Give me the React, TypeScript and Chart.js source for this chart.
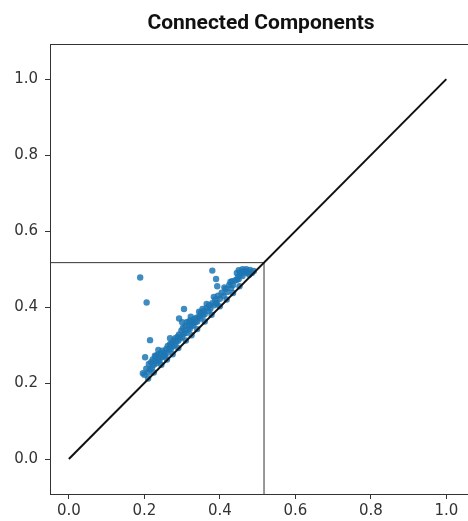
import React, { useEffect, useRef } from "react";
import { Chart, registerables } from "chart.js";

Chart.register(...registerables);

const TITLE = "Connected Components";

const xTickValues = [0, 0.2, 0.4, 0.6, 0.8, 1.0];
const yTickValues = [0, 0.2, 0.4, 0.6, 0.8, 1.0];

const diagonalX = [0, 1];
const diagonalY = [0, 1];

const thresholdValue = 0.517;
const xLimits = [-0.05, 1.068];
const yLimits = [-0.092, 1.092];

const pointsX = [
  0.2, 0.205, 0.21, 0.212, 0.215, 0.218, 0.22, 0.222, 0.225, 0.228, 0.23, 0.232, 0.235, 0.238, 0.24,
  0.242, 0.245, 0.248, 0.25, 0.252, 0.255, 0.258, 0.26, 0.262, 0.265, 0.268, 0.27, 0.272, 0.275, 0.278,
  0.28, 0.282, 0.285, 0.288, 0.29, 0.292, 0.295, 0.298, 0.3, 0.302, 0.305, 0.308, 0.31, 0.312, 0.315,
  0.318, 0.32, 0.322, 0.325, 0.328, 0.33, 0.332, 0.335, 0.338, 0.34, 0.345, 0.348, 0.35, 0.355, 0.358,
  0.36, 0.365, 0.37, 0.372, 0.375, 0.38, 0.385, 0.388, 0.392, 0.395, 0.4, 0.405, 0.41, 0.415, 0.42,
  0.425, 0.43, 0.432, 0.435, 0.44, 0.445, 0.448, 0.45, 0.455, 0.46, 0.465, 0.47,
  0.445, 0.45, 0.455, 0.46, 0.465, 0.47, 0.475, 0.48, 0.485, 0.49, 0.478,
  0.189, 0.206, 0.38, 0.39, 0.393, 0.384, 0.39, 0.354, 0.305, 0.292, 0.323, 0.215, 0.237, 0.202, 0.196, 0.3,
  0.21, 0.225, 0.245, 0.26, 0.275, 0.29, 0.31, 0.325, 0.34, 0.36, 0.378, 0.4, 0.418, 0.435, 0.452,
  0.228, 0.268, 0.318, 0.345, 0.365, 0.412, 0.428,
];

const pointsY = [
  0.222, 0.238, 0.228, 0.25, 0.236, 0.255, 0.24, 0.262, 0.248, 0.258, 0.27, 0.252, 0.275, 0.262, 0.258,
  0.278, 0.268, 0.285, 0.27, 0.28, 0.272, 0.29, 0.28, 0.298, 0.288, 0.302, 0.29, 0.305, 0.296, 0.312,
  0.3, 0.318, 0.308, 0.322, 0.312, 0.328, 0.318, 0.338, 0.322, 0.345, 0.33, 0.35, 0.332, 0.36, 0.34,
  0.352, 0.342, 0.365, 0.35, 0.36, 0.352, 0.368, 0.36, 0.372, 0.362, 0.375, 0.37, 0.385, 0.378, 0.39,
  0.382, 0.398, 0.39, 0.405, 0.396, 0.41, 0.405, 0.42, 0.41, 0.43, 0.422, 0.438, 0.43, 0.448, 0.44,
  0.458, 0.45, 0.468, 0.458, 0.47, 0.472, 0.48, 0.474, 0.486, 0.482, 0.494, 0.49,
  0.49, 0.497, 0.492, 0.5, 0.495, 0.5, 0.493, 0.498, 0.49, 0.495, 0.485,
  0.478, 0.412, 0.496, 0.474, 0.455, 0.427, 0.41, 0.395, 0.395, 0.37, 0.375, 0.313, 0.287, 0.268, 0.226, 0.36,
  0.212, 0.228, 0.248, 0.262, 0.276, 0.292, 0.312, 0.326, 0.342, 0.362, 0.38, 0.402, 0.42, 0.437, 0.455,
  0.272, 0.318, 0.362, 0.388, 0.408, 0.452, 0.466,
];

const framePlugin = {
  id: "frame",
  afterDraw(chart: any) {
    const { ctx, chartArea } = chart;
    ctx.save();
    ctx.strokeStyle = "#333333";
    ctx.lineWidth = 1;
    ctx.strokeRect(
      Math.round(chartArea.left) + 0.5,
      Math.round(chartArea.top) + 0.5,
      Math.round(chartArea.right - chartArea.left),
      Math.round(chartArea.bottom - chartArea.top)
    );
    ctx.restore();
  },
};

export default function App() {
  const ref = useRef<HTMLCanvasElement | null>(null);

  useEffect(() => {
    if (!ref.current) return;
    const scatterData = pointsX.map((x, i) => ({ x, y: pointsY[i] }));
    const diagonal = diagonalX.map((x, i) => ({ x, y: diagonalY[i] }));
    const hLine = [
      { x: xLimits[0], y: thresholdValue },
      { x: thresholdValue, y: thresholdValue },
    ];
    const vLine = [
      { x: thresholdValue, y: yLimits[0] },
      { x: thresholdValue, y: thresholdValue },
    ];

    const tickFont = { family: "'DejaVu Sans', sans-serif", size: 15 };

    const chart = new Chart(ref.current, {
      type: "scatter",
      data: {
        datasets: [
          {
            data: diagonal,
            showLine: true,
            borderColor: "#111111",
            borderWidth: 2,
            pointRadius: 0,
          },
          {
            data: hLine,
            showLine: true,
            borderColor: "#333333",
            borderWidth: 1,
            pointRadius: 0,
          },
          {
            data: vLine,
            showLine: true,
            borderColor: "#333333",
            borderWidth: 1,
            pointRadius: 0,
          },
          {
            data: scatterData,
            backgroundColor: "rgba(31,119,180,0.85)",
            borderWidth: 0,
            pointRadius: 3.2,
          },
        ],
      },
      options: {
        responsive: false,
        animation: false,
        devicePixelRatio: 1,
        layout: { padding: { left: 0, right: 1, top: 0, bottom: 0 } },
        plugins: {
          legend: { display: false },
          tooltip: { enabled: false },
          title: {
            display: true,
            text: TITLE,
            fullSize: false,
            color: "#111111",
            font: { family: "Roboto", size: 21, weight: "bold", lineHeight: 1.2 },
            padding: { top: 11, bottom: 8 },
          },
        },
        scales: {
          x: {
            type: "linear",
            min: xLimits[0],
            max: xLimits[1],
            afterFit: (s: any) => {
              s.height = 27;
            },
            afterBuildTicks: (s: any) => {
              s.ticks = xTickValues.map((v) => ({ value: v }));
            },
            ticks: {
              includeBounds: false,
              color: "#333333",
              font: tickFont,
              padding: 3,
              maxRotation: 0,
              callback: (v: any) => Number(v).toFixed(1),
            },
            grid: {
              drawOnChartArea: false,
              drawTicks: true,
              tickLength: 5,
              color: "#333333",
            },
            border: { display: true, color: "#333333" },
          },
          y: {
            type: "linear",
            min: yLimits[0],
            max: yLimits[1],
            afterFit: (s: any) => {
              s.width = 50;
            },
            afterBuildTicks: (s: any) => {
              s.ticks = yTickValues.map((v) => ({ value: v }));
            },
            ticks: {
              includeBounds: false,
              color: "#333333",
              font: tickFont,
              padding: 7,
              callback: (v: any) => Number(v).toFixed(1),
            },
            grid: {
              drawOnChartArea: false,
              drawTicks: true,
              tickLength: 5,
              color: "#333333",
            },
            border: { display: true, color: "#333333" },
          },
        },
      },
      plugins: [framePlugin],
    } as any);

    return () => chart.destroy();
  }, []);

  return (
    <div
      style={{
        position: "absolute",
        left: 0,
        top: 0,
        width: 468,
        height: 521,
        overflow: "hidden",
        background: "#ffffff",
      }}
    >
      <canvas ref={ref} width={476} height={521} style={{ width: 476, height: 521, display: "block" }} />
    </div>
  );
}
